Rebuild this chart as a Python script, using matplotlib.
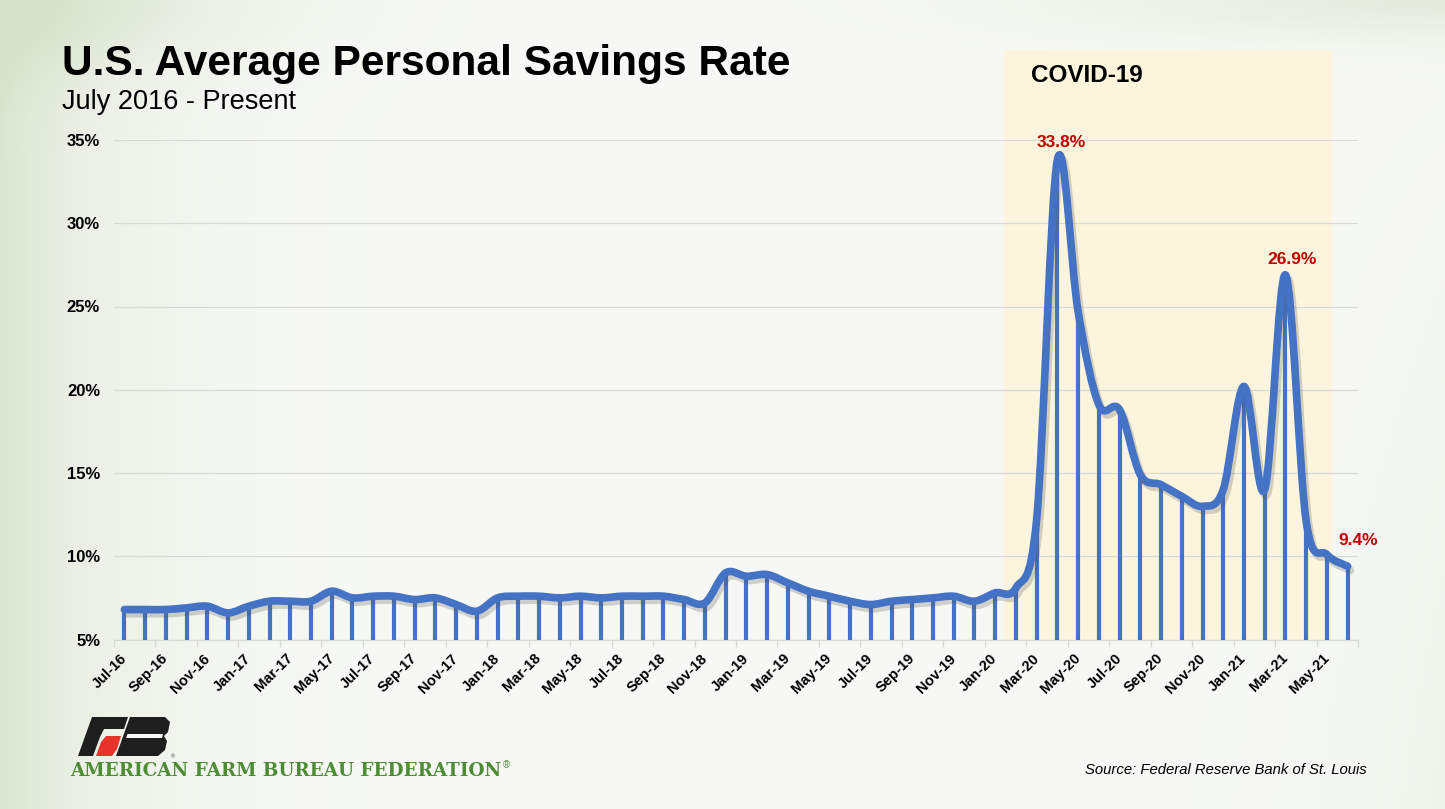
import numpy as np
import pandas as pd
import matplotlib
matplotlib.use('Agg')
import matplotlib.pyplot as plt
import matplotlib.patheffects as pe
from matplotlib.path import Path
from matplotlib.patches import PathPatch, Rectangle, Polygon

# monthly personal savings rate, Jul-16 .. Jun-21 (percent)
months = pd.date_range('2016-07-01', periods=60, freq='MS').strftime('%b-%y').tolist()
savings = [6.8, 6.8, 6.8, 6.9, 7.0, 6.6, 7.0, 7.3, 7.3, 7.3, 7.9, 7.5,
           7.6, 7.6, 7.4, 7.5, 7.1, 6.7, 7.5, 7.6, 7.6, 7.5, 7.6, 7.5,
           7.6, 7.6, 7.6, 7.4, 7.2, 9.0, 8.8, 8.9, 8.4, 7.9, 7.6, 7.3,
           7.1, 7.3, 7.4, 7.5, 7.6, 7.3, 7.8, 8.1, 12.2, 33.8, 24.7, 19.1,
           18.8, 14.9, 14.3, 13.6, 13.0, 14.0, 20.2, 14.0, 26.9, 12.1, 10.1, 9.4]
yticks = [5, 10, 15, 20, 25, 30, 35]
callouts = {'Apr-20': '33.8%', 'Mar-21': '26.9%', 'Jun-21': '9.4%'}
covid_start, covid_end = 'Jan-20', 'May-21'

BLUE = '#4472c4'
RED = '#c00000'
GRID = '#d9d9d9'
W, H = 1445, 809

plt.rcParams['font.family'] = ['Liberation Sans', 'DejaVu Sans']

fig = plt.figure(figsize=(W / 100, H / 100), dpi=100)

# background: near white with a soft green wash on the edges
bg = fig.add_axes([0, 0, 1, 1], zorder=-10)
yy, xx = np.mgrid[0:H, 0:W]
wash = np.clip(0.85 * np.exp(-xx / 110.0) + 0.5 * np.exp(-(xx / 260.0) ** 2 - (yy / 70.0) ** 2)
               + 0.55 * np.exp(-((W - xx) / 380.0) ** 2 - (yy / 40.0) ** 2)
               + 0.25 * np.exp(-((W - xx) / 120.0)) * (yy / H), 0, 1)
base = np.array([248, 249, 246]) / 255.0
green = np.array([214, 226, 203]) / 255.0
img = base[None, None, :] * (1 - wash[..., None]) + green[None, None, :] * wash[..., None]
bg.imshow(img, aspect='auto', extent=[0, 1, 0, 1])
bg.axis('off')

ax = fig.add_axes([114 / W, 1 - 639.5 / H, (1358 - 114) / W, (639.5 - 140) / H])
ax.set_facecolor('none')
x = np.arange(len(savings))
y = np.array(savings)

# covid shading
i0, i1 = months.index(covid_start), months.index(covid_end)
ax.add_patch(Rectangle((i0 + 0.43, 5), (i1 + 0.25) - (i0 + 0.43), 35.4,
                       facecolor='#fcf4dd', edgecolor='none', zorder=0, clip_on=False))
ax.text(i0 + 1.75, 38.5, 'COVID-19', fontsize=17.5, fontweight='bold', ha='left', va='baseline')

for t in yticks:
    ax.axhline(t, color=GRID, lw=0.9, zorder=0.5)

# drop lines
ax.vlines(x, 5, y, color=BLUE, lw=3.0, zorder=2)

# smoothed line (bezier through data points)
verts = [(x[0], y[0])]
codes = [Path.MOVETO]
n = len(y)
for i in range(n - 1):
    p0 = np.array([x[max(i - 1, 0)], y[max(i - 1, 0)]])
    p1 = np.array([x[i], y[i]])
    p2 = np.array([x[i + 1], y[i + 1]])
    p3 = np.array([x[min(i + 2, n - 1)], y[min(i + 2, n - 1)]])
    c1 = p1 + (p2 - p0) / 6.0
    c2 = p2 - (p3 - p1) / 6.0
    verts += [tuple(c1), tuple(c2), tuple(p2)]
    codes += [Path.CURVE4] * 3
curve = PathPatch(Path(verts, codes), facecolor='none', edgecolor=BLUE, lw=5.5,
                  capstyle='round', joinstyle='round', zorder=3,
                  path_effects=[pe.SimpleLineShadow(offset=(2, -3), shadow_color='#555555', alpha=0.25),
                                pe.Normal()])
ax.add_patch(curve)

# callout labels
offsets = {'Apr-20': (0.2, 0.75), 'Mar-21': (0.3, 0.65), 'Jun-21': (0.5, 1.25)}
for m, txt in callouts.items():
    i = months.index(m)
    dx, dy = offsets[m]
    ax.text(i + dx, savings[i] + dy, txt, color=RED, fontsize=12.5, fontweight='bold',
            ha='center', va='baseline', zorder=5, clip_on=False)

ax.set_xlim(-0.5, n - 0.5)
ax.set_ylim(5, 35)
ax.set_yticks(yticks)
ax.set_yticklabels([f'{t}%' for t in yticks], fontsize=12, fontweight='bold')
ax.set_xticks(x[::2])
ax.set_xticklabels(months[::2], rotation=45, ha='right', va='center', rotation_mode='anchor',
                   fontsize=10.5, fontweight='bold')
ax.set_xticks(np.arange(-0.5, n, 2), minor=True)
ax.tick_params(axis='x', which='major', length=0, pad=12)
ax.tick_params(axis='x', which='minor', length=5, color=GRID, width=0.9)
ax.tick_params(axis='y', length=0, pad=10)
for s in ['top', 'right', 'left']:
    ax.spines[s].set_visible(False)
ax.spines['bottom'].set_color(GRID)
ax.spines['bottom'].set_linewidth(0.9)
ax.spines['bottom'].set_zorder(0.6)

# titles
fig.text(62 / W, 1 - 75 / H, 'U.S. Average Personal Savings Rate', fontsize=30.6,
         fontweight='bold', ha='left', va='baseline')
fig.text(62 / W, 1 - 109 / H, 'July 2016 - Present', fontsize=19.5, ha='left', va='baseline')
fig.text(1367 / W, 1 - 774 / H, 'Source: Federal Reserve Bank of St. Louis', fontsize=10.7,
         style='italic', ha='right', va='baseline')


# logo
def px(pts):
    return [(a / W, 1 - b / H) for a, b in pts]


fig.patches.append(Polygon(px([(78, 756), (92, 717), (128, 717), (124, 729), (104, 729),
                                (100, 737), (93, 756)]), closed=True, facecolor='#1e1e1e',
                           edgecolor='none', transform=fig.transFigure))
fig.patches.append(Polygon(px([(96, 756), (101, 742), (106, 736), (121, 736), (117, 749),
                               (112, 756)]), closed=True, facecolor='#e8332a',
                           edgecolor='none', transform=fig.transFigure))
fig.patches.append(Polygon(px([(116, 756), (130, 717), (165, 717), (170, 722), (168, 732),
                               (164, 736), (167, 741), (165, 750), (158, 756)]), closed=True,
                           facecolor='#1e1e1e', edgecolor='none', transform=fig.transFigure))
fig.patches.append(Polygon(px([(126, 738), (127.5, 734), (163, 734), (162, 738)]), closed=True,
                           facecolor='#f4f6f1', edgecolor='none', transform=fig.transFigure))
fig.text(171 / W, 1 - 758 / H, '®', fontsize=4, color='#444444', ha='left', va='baseline')
fig.text(70 / W, 1 - 775.5 / H, 'AMERICAN FARM BUREAU FEDERATION', fontsize=13.2,
         fontweight='bold', color='#4c8c32', family=['DejaVu Serif'],
         ha='left', va='baseline')
fig.text(503 / W, 1 - 768 / H, '®', fontsize=7, color='#4c8c32', ha='left', va='baseline')

fig.savefig('out.png', dpi=100)
